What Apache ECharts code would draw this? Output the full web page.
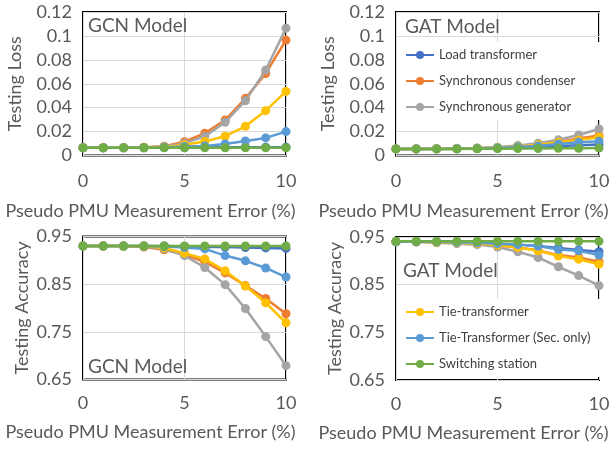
<!DOCTYPE html>
<html>
<head>
<meta charset="utf-8">
<script src="https://cdn.jsdelivr.net/npm/echarts@6/dist/echarts.min.js"></script>
<style>
  html, body { margin: 0; padding: 0; background: #fff; }
  #chart { width: 610px; height: 449px; }
</style>
</head>
<body>
<div id="chart"></div>
<script>
// x axis: pseudo PMU measurement error (%)
const errPct = [0, 1, 2, 3, 4, 5, 6, 7, 8, 9, 10];

const seriesNames = [
  'Load transformer',
  'Synchronous condenser',
  'Synchronous generator',
  'Tie-transformer',
  'Tie-Transformer (Sec. only)',
  'Switching station',
];
const colors = ['#4472C4', '#ED7D31', '#A5A5A5', '#FFC000', '#5B9BD5', '#70AD47'];

// GCN testing loss
const gcnLoadT   = [0.0065, 0.0065, 0.0065, 0.0065, 0.0066, 0.0067, 0.0068, 0.0069, 0.007, 0.007, 0.007];
const gcnSyncCon = [0.0065, 0.0065, 0.0066, 0.0068, 0.0078, 0.0115, 0.0186, 0.0297, 0.0478, 0.0686, 0.0965];
const gcnSyncGen = [0.0065, 0.0065, 0.0066, 0.0067, 0.0075, 0.0103, 0.016, 0.0278, 0.0458, 0.0714, 0.1065];
const gcnTieT    = [0.0065, 0.0065, 0.0065, 0.0066, 0.007, 0.009, 0.0117, 0.0161, 0.0244, 0.0375, 0.0536];
const gcnTieSec  = [0.0065, 0.0065, 0.0065, 0.0065, 0.0067, 0.0075, 0.008, 0.0097, 0.0122, 0.0147, 0.02];
const gcnSwitch  = [0.0065, 0.0065, 0.0065, 0.0065, 0.0065, 0.0065, 0.0065, 0.0065, 0.0065, 0.0065, 0.0065];

// GAT testing loss
const gatLoadT   = [0.0055, 0.0055, 0.0055, 0.0056, 0.0058, 0.0062, 0.0068, 0.0075, 0.008, 0.0085, 0.0092];
const gatSyncCon = [0.0055, 0.0055, 0.0056, 0.0058, 0.006, 0.0066, 0.0078, 0.0095, 0.0115, 0.0143, 0.0167];
const gatSyncGen = [0.0055, 0.0056, 0.0057, 0.006, 0.0063, 0.0069, 0.0083, 0.0103, 0.0131, 0.0172, 0.0222];
const gatTieT    = [0.0055, 0.0055, 0.0055, 0.0057, 0.006, 0.0065, 0.0076, 0.009, 0.011, 0.013, 0.0153];
const gatTieSec  = [0.0055, 0.0055, 0.0055, 0.0056, 0.0058, 0.0063, 0.0072, 0.008, 0.0096, 0.011, 0.012];
const gatSwitch  = [0.0055, 0.0055, 0.0055, 0.0055, 0.0056, 0.0057, 0.0058, 0.0059, 0.006, 0.006, 0.0062];

// GCN testing accuracy
const gcnAccLoadT   = [0.93, 0.93, 0.93, 0.93, 0.93, 0.929, 0.928, 0.928, 0.927, 0.926, 0.925];
const gcnAccSyncCon = [0.93, 0.93, 0.93, 0.928, 0.922, 0.912, 0.8965, 0.8736, 0.847, 0.82, 0.788];
const gcnAccSyncGen = [0.93, 0.93, 0.93, 0.929, 0.924, 0.91, 0.885, 0.849, 0.799, 0.74, 0.679];
const gcnAccTieT    = [0.93, 0.93, 0.93, 0.93, 0.926, 0.915, 0.903, 0.878, 0.846, 0.811, 0.769];
const gcnAccTieSec  = [0.93, 0.93, 0.93, 0.93, 0.929, 0.927, 0.924, 0.91, 0.899, 0.884, 0.865];
const gcnAccSwitch  = [0.93, 0.93, 0.93, 0.93, 0.93, 0.93, 0.93, 0.93, 0.93, 0.93, 0.93];

// GAT testing accuracy
const gatAccLoadT   = [0.94, 0.94, 0.94, 0.939, 0.938, 0.936, 0.934, 0.931, 0.927, 0.923, 0.919];
const gatAccSyncCon = [0.94, 0.94, 0.939, 0.938, 0.936, 0.932, 0.928, 0.922, 0.912, 0.907, 0.898];
const gatAccSyncGen = [0.94, 0.94, 0.938, 0.936, 0.934, 0.929, 0.919, 0.907, 0.8875, 0.869, 0.848];
const gatAccTieT    = [0.94, 0.94, 0.939, 0.938, 0.936, 0.933, 0.928, 0.921, 0.91, 0.9035, 0.893];
const gatAccTieSec  = [0.94, 0.94, 0.94, 0.939, 0.938, 0.936, 0.934, 0.931, 0.924, 0.921, 0.912];
const gatAccSwitch  = [0.941, 0.941, 0.941, 0.941, 0.941, 0.941, 0.941, 0.941, 0.941, 0.941, 0.941];

const panels = [
  [gcnLoadT, gcnSyncCon, gcnSyncGen, gcnTieT, gcnTieSec, gcnSwitch],
  [gatLoadT, gatSyncCon, gatSyncGen, gatTieT, gatTieSec, gatSwitch],
  [gcnAccLoadT, gcnAccSyncCon, gcnAccSyncGen, gcnAccTieT, gcnAccTieSec, gcnAccSwitch],
  [gatAccLoadT, gatAccSyncCon, gatAccSyncGen, gatAccTieT, gatAccTieSec, gatAccSwitch],
];

const FONT = 'Lato';
const GREY = '#595959';

const chart = echarts.init(document.getElementById('chart'));

const grids = [
  { left: 83, top: 12, width: 203, height: 143.5 },
  { left: 396, top: 12, width: 203, height: 143.5 },
  { left: 83, top: 236.5, width: 203, height: 143 },
  { left: 396, top: 237, width: 203, height: 143 },
].map(g => ({
  ...g,
  show: true,
  borderColor: '#000',
  borderWidth: 2,
  backgroundColor: 'transparent',
  outerBoundsMode: 'none',
  containLabel: false,
}));

const xAxes = grids.map((g, i) => ({
  type: 'value',
  gridIndex: i,
  min: 0,
  max: 10,
  interval: 5,
  name: 'Pseudo PMU Measurement Error (%)',
  nameLocation: 'middle',
  nameGap: i < 2 ? 47 : 44,
  // the name sits a bit left of the plot centre in the original
  nameTextStyle: { color: GREY, fontSize: 18, fontFamily: FONT, padding: [0, 68, 0, 0] },
  axisLine: { show: false },
  axisTick: { show: false },
  axisLabel: { color: GREY, fontSize: 18, fontFamily: FONT, margin: i < 2 ? 17 : 15 },
  splitLine: { show: true, lineStyle: { color: '#D9D9D9', width: 1 } },
}));

const yAxes = grids.map((g, i) => {
  const loss = i < 2;
  return {
    type: 'value',
    gridIndex: i,
    min: loss ? 0 : 0.65,
    max: loss ? 0.12 : 0.95,
    interval: loss ? 0.02 : 0.1,
    name: loss ? 'Testing Loss' : 'Testing Accuracy',
    nameLocation: 'middle',
    nameGap: loss ? 59 : 52,
    nameTextStyle: { color: GREY, fontSize: 18, fontFamily: FONT },
    axisLine: { show: false },
    axisTick: { show: false },
    axisLabel: {
      color: GREY, fontSize: 18, fontFamily: FONT, margin: 11,
      formatter: v => (loss ? String(+v.toFixed(2)) : v.toFixed(2)),
    },
    splitLine: { show: true, lineStyle: { color: '#D9D9D9', width: 1 } },
  };
});

const series = [];
panels.forEach((panel, gi) => {
  panel.forEach((vals, si) => {
    series.push({
      name: seriesNames[si],
      type: 'line',
      xAxisIndex: gi,
      yAxisIndex: gi,
      data: errPct.map((x, k) => [x, vals[k]]),
      symbol: 'circle',
      symbolSize: 9,
      lineStyle: { color: colors[si], width: 2.5 },
      itemStyle: { color: colors[si] },
      z: 2 + si,
    });
  });
});

const legendBase = {
  orient: 'vertical',
  backgroundColor: '#fff',
  padding: [5, 26, 5, 8],
  itemWidth: 28,
  itemHeight: 10,
  itemGap: 10,
  textStyle: { color: '#404040', fontSize: 13, fontFamily: FONT, lineHeight: 16 },
  z: 5,
};

const titleStyle = { color: GREY, fontSize: 19, fontWeight: 'normal', fontFamily: FONT };

chart.setOption({
  animation: false,
  color: colors,
  textStyle: { fontFamily: FONT },
  title: [
    { text: 'GCN Model', left: 88, top: 16, padding: 0, textStyle: titleStyle },
    { text: 'GAT Model', left: 405, top: 17, padding: 0, textStyle: titleStyle },
    { text: 'GCN Model', left: 88, top: 357, padding: 0, textStyle: titleStyle },
    { text: 'GAT Model', left: 403, top: 261, padding: 0, textStyle: titleStyle },
  ],
  legend: [
    { ...legendBase, left: 397, top: 42, data: seriesNames.slice(0, 3) },
    { ...legendBase, left: 397, top: 299, data: seriesNames.slice(3) },
  ],
  grid: grids,
  xAxis: xAxes,
  yAxis: yAxes,
  series: series,
});
</script>
</body>
</html>
